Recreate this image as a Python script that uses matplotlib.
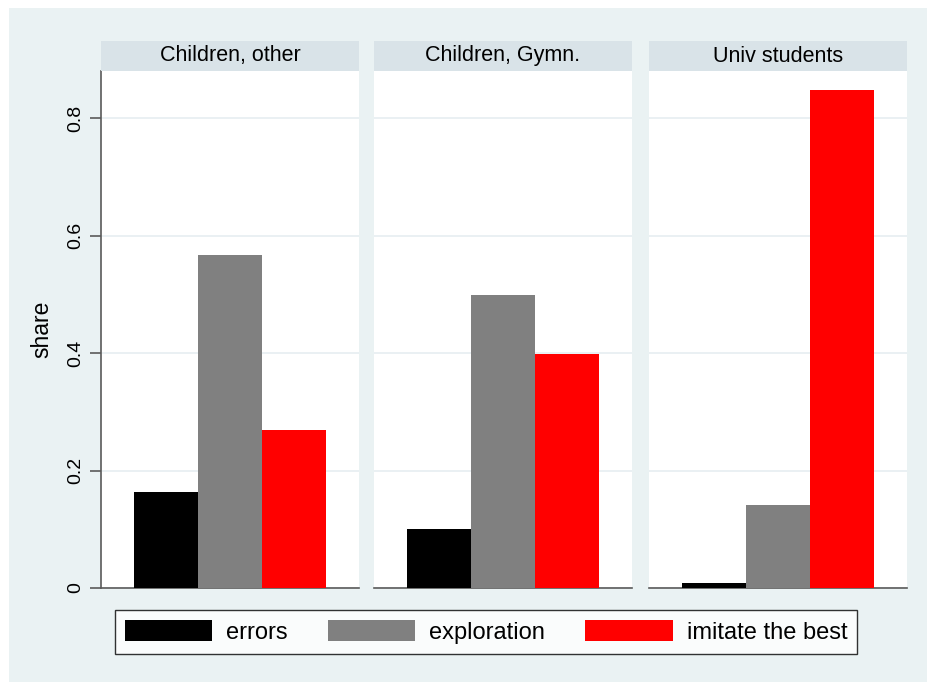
import matplotlib
matplotlib.use('Agg')
import matplotlib.pyplot as plt
from matplotlib.patches import Rectangle
import numpy as np

plt.rcParams['font.family'] = ['Liberation Sans', 'DejaVu Sans']

groups = ['Children, other', 'Children, Gymn.', 'Univ students']
series = ['errors', 'exploration', 'imitate the best']
colors = ['#000000', '#808080', '#FF0000']
errors = [0.163, 0.100, 0.008]
exploration = [0.567, 0.499, 0.142]
imitate = [0.269, 0.398, 0.848]
yticks = [0, 0.2, 0.4, 0.6, 0.8]
ytick_labels = ['0', '0.2', '0.4', '0.6', '0.8']

BG = '#EAF2F3'
STRIP = '#D9E3E8'
GRID = '#E6EEF1'
SPINE = '#5A5A5A'

W, H = 928, 682
fig = plt.figure(figsize=(W / 100, H / 100), dpi=100, facecolor='white')
fig.patches.append(Rectangle((9 / W, 0), 1 - 9 / W, 1 - 8 / H, transform=fig.transFigure,
                             facecolor=BG, edgecolor='none', zorder=-10))

lefts = [101, 374, 649]
pw = 258
top, base = 71, 588
strip_h = 30

values = np.array([errors, exploration, imitate])
handles = []
for g, name in enumerate(groups):
    ax = fig.add_axes([lefts[g] / W, (H - base) / H, pw / W, (base - top) / H])
    ax.set_facecolor('white')
    for k in range(3):
        b = ax.bar(k + 1, values[k, g], width=1.0, color=colors[k], edgecolor='none', zorder=3)
        if g == 0:
            handles.append(b)
    ax.set_xlim(-0.02, 4.01)
    ax.set_ylim(0, 0.88)
    ax.set_yticks(yticks)
    ax.grid(axis='y', color=GRID, lw=1.2, zorder=0)
    ax.set_xticks([])
    for s in ['top', 'right']:
        ax.spines[s].set_visible(False)
    ax.spines['bottom'].set_color(SPINE)
    ax.spines['bottom'].set_linewidth(1.2)
    if g == 0:
        ax.spines['left'].set_color(SPINE)
        ax.spines['left'].set_linewidth(1.2)
        ax.set_yticklabels(ytick_labels, rotation=90, va='center', fontsize=14)
        ax.tick_params(axis='y', length=8, width=1.2, color=SPINE, pad=4)
        ax.set_ylabel('share', fontsize=16.5, labelpad=10)
    else:
        ax.spines['left'].set_visible(False)
        ax.tick_params(axis='y', length=0, labelleft=False)

    # strip header
    fig.patches.append(Rectangle((lefts[g] / W, (H - top) / H), pw / W, strip_h / H,
                                 transform=fig.transFigure, facecolor=STRIP,
                                 edgecolor='none', zorder=1))
    fig.text((lefts[g] + pw / 2) / W, (H - top + strip_h / 2) / H, name,
             ha='center', va='center', fontsize=15.5, color='black')

leg = fig.legend(handles, series, loc='center', ncol=3,
                 bbox_to_anchor=(486 / W, (H - 632) / H), frameon=True, fancybox=False,
                 fontsize=17, handlelength=3.7, handleheight=1.0, handletextpad=0.6,
                 columnspacing=1.7, borderpad=0.42, edgecolor='black')
leg.get_frame().set_linewidth(1.0)

plt.savefig('out.png', dpi=100, facecolor='white')
plt.close()
